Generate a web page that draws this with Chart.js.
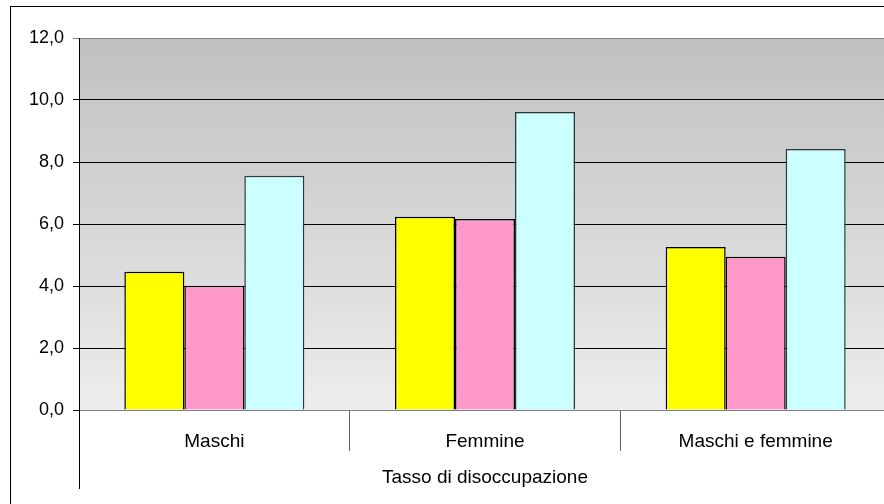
<!DOCTYPE html>
<html>
<head>
<meta charset="utf-8">
<script src="https://cdn.jsdelivr.net/npm/chart.js@4/dist/chart.umd.min.js"></script>
<style>
  html, body { margin: 0; padding: 0; background: #fff; overflow: hidden; }
  #wrap { position: relative; width: 894px; height: 514px; }
</style>
</head>
<body>
<div id="wrap"><canvas id="myChart"></canvas></div>
<script>
// données
const categories = ['Maschi', 'Femmine', 'Maschi e femmine'];
const groupLabel = 'Tasso di disoccupazione';
const serie1 = [4.46, 6.23, 5.26];
const serie2 = [4.01, 6.16, 4.94];
const serie3 = [7.56, 9.61, 8.42];
const yTicks = [0, 2, 4, 6, 8, 10, 12];

const colors = ['#FFFF00', '#FF99CC', '#CCFFFF'];
const borders = ['#000000', '#000000', '#2a3a3a'];

window.addEventListener("DOMContentLoaded", () => {

    //fond dégradé + cadre + trait de gauche
    const decor = {
        id: 'decor',
        beforeDatasetsDraw(chart) {
            const { ctx, chartArea: a } = chart;
            const g = ctx.createLinearGradient(0, a.top, 0, a.bottom);
            g.addColorStop(0, '#c0c0c0');
            g.addColorStop(1, '#ededed');
            ctx.save();
            ctx.globalCompositeOperation = 'destination-over';
            ctx.fillStyle = g;
            ctx.fillRect(a.left, a.top, a.right - a.left, a.bottom - a.top);
            ctx.restore();
        },
        afterDraw(chart) {
            const { ctx, chartArea: a } = chart;
            ctx.save();
            ctx.strokeStyle = '#000';
            ctx.lineWidth = 1;
            ctx.beginPath();
            ctx.moveTo(Math.round(a.left) + 0.5, a.bottom);
            ctx.lineTo(Math.round(a.left) + 0.5, a.bottom + 79);
            ctx.stroke();
            ctx.strokeRect(10.5, 6.5, chart.width, chart.height);
            ctx.restore();
        }
    };

    const data = {
        labels: categories,
        datasets: [serie1, serie2, serie3].map((s, i) => ({
            label: 'Serie' + (i + 1),
            data: s,
            backgroundColor: colors[i],
            borderColor: borders[i],
            borderWidth: 1.5,
            categoryPercentage: 0.665,
            barPercentage: 1
        }))
    };

    const config = {
        type: 'bar',
        data: data,
        plugins: [decor],
        options: {
            responsive: true,
            maintainAspectRatio: false,
            animation: false,
            layout: { padding: { top: 38, right: 3, left: 0, bottom: 0 } },
            plugins: {
                legend: { display: false },
                tooltip: { enabled: false }
            },
            scales: {
                x: {
                    offset: true,
                    afterFit: (s) => { s.height = 104; },
                    grid: {
                        offset: true,
                        drawOnChartArea: false,
                        tickLength: 41,
                        color: (c) => c.index === 0 ? 'rgba(0,0,0,0)' : '#606060'
                    },
                    border: { color: '#808080' },
                    ticks: {
                        padding: -21,
                        color: '#000',
                        font: { family: 'Liberation Sans, Arial', size: 19 }
                    },
                    title: {
                        display: true,
                        text: groupLabel,
                        color: '#000',
                        font: { family: 'Liberation Sans, Arial', size: 19 },
                        padding: { top: 0, bottom: 25 }
                    }
                },
                y: {
                    min: 0,
                    max: 12,
                    afterFit: (s) => { s.width = 79; },
                    afterBuildTicks: (s) => { s.ticks = yTicks.map(v => ({ value: v })); },
                    grid: {
                        color: (c) => c.tick && c.tick.value === 12 ? '#808080' : '#000',
                        tickLength: 6
                    },
                    border: { color: '#000' },
                    ticks: {
                        padding: 9,
                        color: '#000',
                        font: { family: 'Liberation Sans, Arial', size: 18 },
                        callback: (v) => v.toFixed(1).replace('.', ',')
                    }
                }
            }
        }
    };

    new Chart(document.getElementById('myChart'), config);
});
</script>
</body>
</html>
